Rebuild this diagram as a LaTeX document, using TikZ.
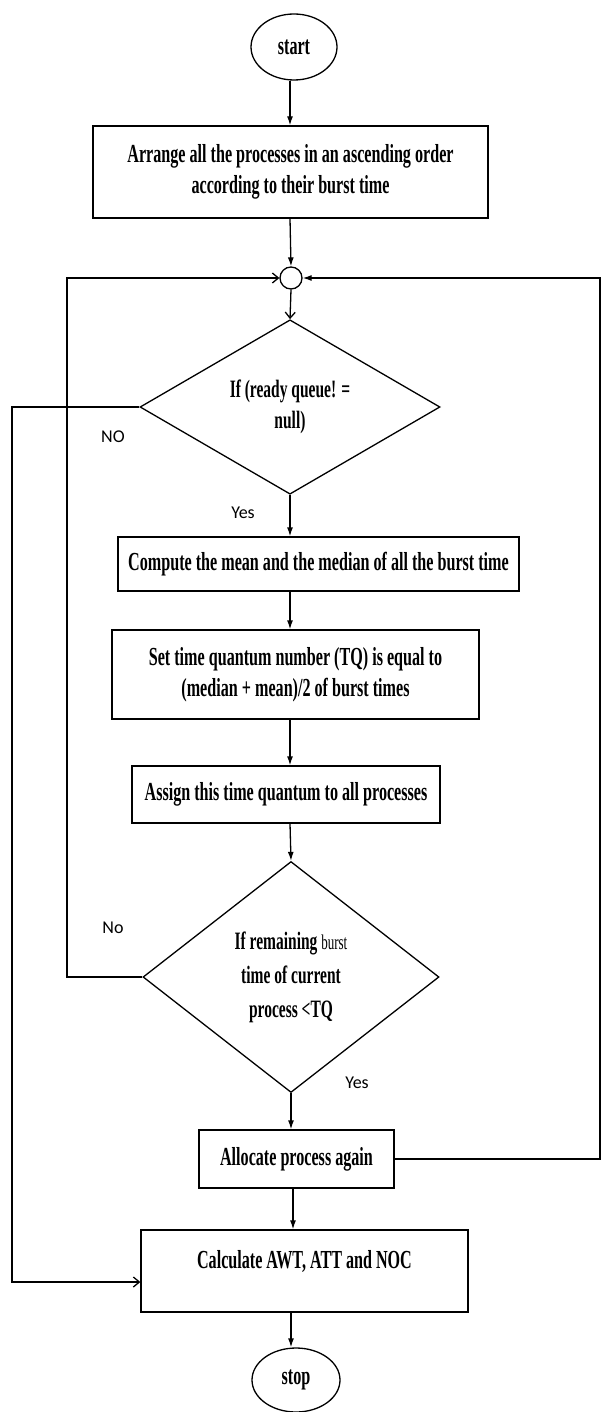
\documentclass[tikz,border=0pt]{standalone}
\usepackage{fontspec}
\newfontfamily\boxfont{Liberation Serif}[FakeStretch=0.62]
\newfontfamily\lblfont{Carlito}
\usetikzlibrary{shapes.geometric,arrows.meta}
\begin{document}
\begin{tikzpicture}[x=1pt,y=-1pt,line width=1.3pt,
  txt/.style={font=\boxfont\bfseries\fontsize{26}{31}\selectfont,align=center,inner sep=0pt},
  procbox/.style={txt,draw,rectangle},
  term/.style={txt,draw,ellipse,minimum width=86pt,minimum height=66pt},
  decision/.style={txt,draw,diamond},
  junction/.style={draw,circle,minimum size=22pt,inner sep=0pt},
  lbl/.style={font=\lblfont\fontsize{18}{20}\selectfont,inner sep=0pt},
  fa/.style={-{Latex[length=9pt,width=6pt]}},
  oa/.style={-{Straight Barb[length=6pt,width=10pt]}}]
\useasboundingbox (0,0) rectangle (600,1412);
\node[term] (start) at (294,47) {start};
\node[procbox,minimum width=395pt,minimum height=92pt] (arrange) at (290.5,172)
  {Arrange all the processes in an ascending order\\according to their burst time};
\node[junction] (jn) at (291,278) {};
\node[decision,minimum width=300pt,minimum height=172pt,font=\boxfont\bfseries\fontsize{25}{31}\selectfont] (d1) at (290,407)
  {If (ready queue! =\\null)};
\node[procbox,minimum width=401pt,minimum height=54pt] (compute) at (318.5,564)
  {Compute the mean and the median of all the burst time};
\node[procbox,minimum width=367pt,minimum height=89pt] (settq) at (295.5,674.5)
  {Set time quantum number (TQ) is equal to\\(median + mean)/2 of burst times};
\node[procbox,minimum width=308pt,minimum height=57pt] (assign) at (286,794.5)
  {Assign this time quantum to all processes};
\node[decision,minimum width=296pt,minimum height=231pt,font=\boxfont\bfseries\fontsize{25}{34}\selectfont] (d2) at (291,977)
  {If remaining {\mdseries\fontsize{21}{34}\selectfont burst}\\time of current\\process <TQ};
\node[procbox,minimum width=195pt,minimum height=58pt] (alloc) at (296.5,1159)
  {Allocate process again};
\node[procbox,minimum width=327pt,minimum height=82pt,text depth=24pt] (calc) at (304.5,1271)
  {Calculate AWT, ATT and NOC};
\node[term,minimum width=88pt,minimum height=64pt] (stop) at (296,1380) {stop};
\node[lbl] (no1) at (113,437) {NO};
\node[lbl] (yes1) at (243,513) {Yes};
\node[lbl] (no2) at (113,928) {No};
\node[lbl] (yes2) at (357,1083) {Yes};
\coordinate (calcin) at ([yshift=-11pt]calc.west);
\coordinate (col) at (290,0);
\draw[fa] (start.south -| col) -- (arrange.north -| col);
\draw[fa] (arrange.south -| col) -- (jn.north);
\draw[oa] (jn.south) -- (d1.north);
\draw[fa] (d1.south) -- (compute.north -| col);
\draw[fa] (compute.south -| col) -- (settq.north -| col);
\draw[fa] (settq.south -| col) -- (assign.north -| col);
\draw[fa] (assign.south -| col) -- (d2.north);
\draw[fa] (d2.south) -- (alloc.north -| d2.south);
\draw[fa] (alloc.south -| 293,0) -- (calc.north -| 293,0);
\draw[fa] (calc.south -| 291,0) -- (stop.north -| 291,0);
\draw[oa] (d1.west) -- (12,407) -- (12,1282) -- (calcin);
\draw[oa] (d2.west) -- (67,977) -- (67,278) -- (jn.west);
\draw[fa] (alloc.east) -- (600,1159) -- (600,278) -- (jn.east);
\end{tikzpicture}
\end{document}
